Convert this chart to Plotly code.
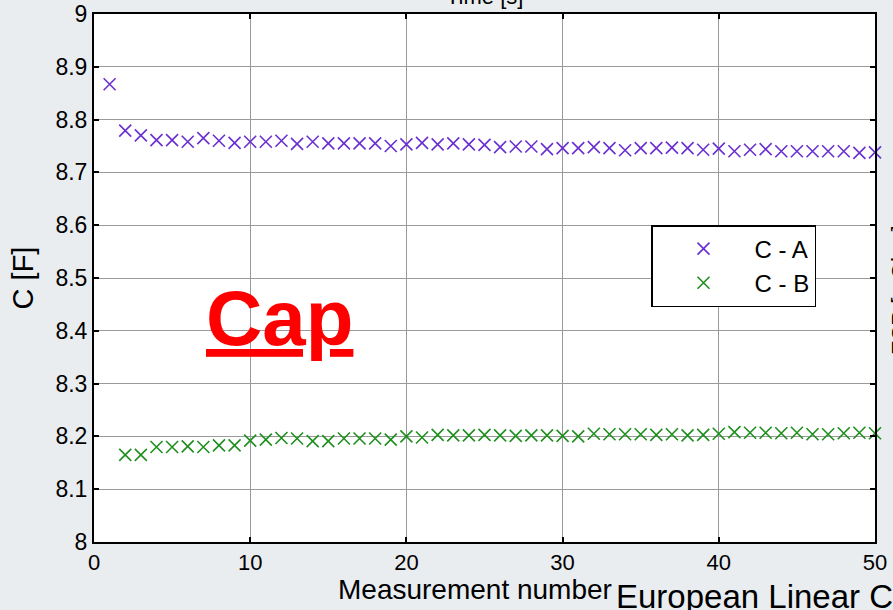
import plotly.graph_objects as go

# Measurement index and capacitance values for the two cells
meas_a = list(range(1, 51))
cap_a = [8.867, 8.779, 8.770, 8.761, 8.761, 8.758, 8.765, 8.760, 8.756, 8.758,
         8.758, 8.760, 8.754, 8.758, 8.755, 8.755, 8.755, 8.755, 8.750, 8.753,
         8.756, 8.753, 8.755, 8.753, 8.752, 8.748, 8.749, 8.749, 8.744, 8.746,
         8.746, 8.748, 8.746, 8.742, 8.746, 8.746, 8.747, 8.746, 8.743, 8.745,
         8.740, 8.743, 8.744, 8.740, 8.740, 8.740, 8.740, 8.740, 8.737, 8.738]

meas_b = list(range(2, 51))
cap_b = [8.165, 8.165, 8.180, 8.180, 8.181, 8.180, 8.183, 8.183, 8.192,
         8.194, 8.197, 8.196, 8.191, 8.191, 8.196, 8.196, 8.196, 8.194, 8.200,
         8.198, 8.203, 8.202, 8.202, 8.203, 8.202, 8.201, 8.202, 8.202, 8.201,
         8.200, 8.205, 8.204, 8.204, 8.204, 8.203, 8.204, 8.202, 8.203, 8.205,
         8.208, 8.207, 8.207, 8.206, 8.207, 8.204, 8.204, 8.206, 8.207, 8.206]

series_names = ["C - A", "C - B"]
series_colors = ["#6a2fd0", "#1f8f1f"]

x_ticks = [0, 10, 20, 30, 40, 50]
y_ticks = [8.0, 8.1, 8.2, 8.3, 8.4, 8.5, 8.6, 8.7, 8.8, 8.9, 9.0]
y_ticktext = ["8", "8.1", "8.2", "8.3", "8.4", "8.5", "8.6", "8.7", "8.8", "8.9", "9"]

FONT = "Arial, Liberation Sans, sans-serif"

fig = go.Figure()
for xs, ys, name, color in [(meas_a, cap_a, series_names[0], series_colors[0]),
                            (meas_b, cap_b, series_names[1], series_colors[1])]:
    fig.add_trace(go.Scatter(
        x=xs, y=ys, name=name, mode="markers", cliponaxis=False,
        marker=dict(symbol="x-thin", size=12, color=color,
                    line=dict(color=color, width=1.6)),
    ))

axis_common = dict(
    showline=True, linecolor="black", linewidth=2, mirror="allticks",
    ticks="inside", ticklen=5, tickcolor="black", tickwidth=1.5,
    showgrid=True, gridcolor="#9a9a9a", gridwidth=1, automargin=False,
    zeroline=False,
)

fig.update_xaxes(range=[0, 50], tickvals=x_ticks,
                 tickfont=dict(family=FONT, size=22, color="black"),
                 **axis_common)
fig.update_yaxes(range=[8, 9], tickvals=y_ticks, ticktext=y_ticktext,
                 tickfont=dict(family=FONT, size=23, color="black"),
                 title=dict(text="C [F]",
                            font=dict(family=FONT, size=29, color="black"),
                            standoff=13),
                 **axis_common)

def px_x(p):
    return (p - 94) / 781

def px_y(p):
    return (542 - p) / 528

# x-axis title, placed left of centre so it clears the caption beside it
fig.add_annotation(text="Measurement number", xref="paper", yref="paper",
                   x=px_x(475), y=px_y(607), xanchor="center", yanchor="bottom",
                   showarrow=False, font=dict(family=FONT, size=28, color="black"))
fig.add_annotation(text="<b><u>Cap</u></b>", xref="paper", yref="paper",
                   x=px_x(279), y=px_y(318), xanchor="center", yanchor="middle",
                   showarrow=False, font=dict(family=FONT, size=78, color="#ff0000"))
fig.add_annotation(text="Time [s]", xref="paper", yref="paper",
                   x=px_x(485), y=px_y(11), xanchor="center", yanchor="bottom",
                   showarrow=False, font=dict(family=FONT, size=22, color="black"))
fig.add_annotation(text="European Linear Capacitor", xref="paper", yref="paper",
                   x=px_x(614), y=px_y(576), xanchor="left", yanchor="top",
                   showarrow=False, font=dict(family=FONT, size=33, color="black"))
fig.add_annotation(text="ESR [mOhm]", xref="paper", yref="paper", textangle=-90,
                   x=px_x(899), y=px_y(290), xanchor="center", yanchor="middle",
                   showarrow=False, font=dict(family=FONT, size=22, color="black"))

fig.update_layout(
    width=893, height=610,
    margin=dict(l=94, r=18, t=14, b=68),
    paper_bgcolor="#e9edf0", plot_bgcolor="white",
    font=dict(family=FONT, color="black"),
    legend=dict(x=px_x(651), y=px_y(225), xanchor="left", yanchor="top",
                bgcolor="white", bordercolor="black", borderwidth=1.5,
                font=dict(family=FONT, size=24, color="black"),
                itemwidth=92, tracegroupgap=0),
)

fig.write_html("out.html")
